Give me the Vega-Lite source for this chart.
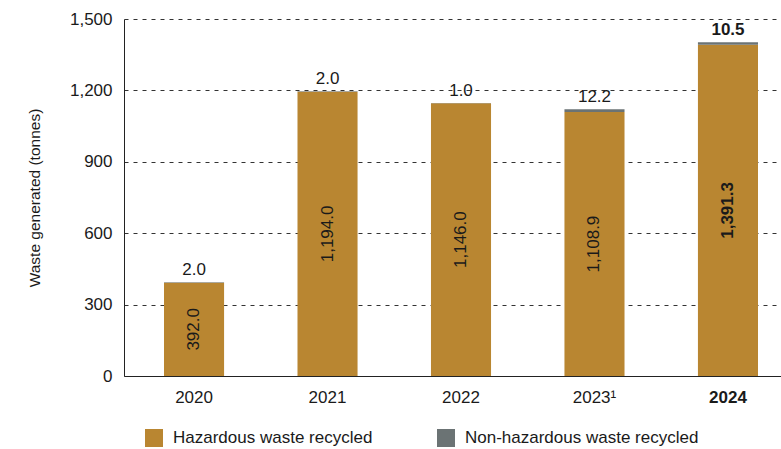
{
  "$schema": "https://vega.github.io/schema/vega-lite/v6.json",
  "width": 657,
  "height": 357,
  "autosize": {"type": "none"},
  "padding": {"left": 124, "top": 19, "right": 0, "bottom": 73},
  "background": "white",
  "config": {
    "font": "Liberation Sans",
    "view": {"stroke": null},
    "text": {"font": "Liberation Sans", "fontSize": 17, "fill": "#1a1a1a"}
  },
  "data": {
    "values": [
      {"year": "2020", "category": "Hazardous waste recycled", "value": 392.0},
      {"year": "2020", "category": "Non-hazardous waste recycled", "value": 2.0},
      {"year": "2021", "category": "Hazardous waste recycled", "value": 1194.0},
      {"year": "2021", "category": "Non-hazardous waste recycled", "value": 2.0},
      {"year": "2022", "category": "Hazardous waste recycled", "value": 1146.0},
      {"year": "2022", "category": "Non-hazardous waste recycled", "value": 1.0},
      {"year": "2023¹", "category": "Hazardous waste recycled", "value": 1108.9},
      {"year": "2023¹", "category": "Non-hazardous waste recycled", "value": 12.2},
      {"year": "2024", "category": "Hazardous waste recycled", "value": 1391.3},
      {"year": "2024", "category": "Non-hazardous waste recycled", "value": 10.5}
    ]
  },
  "encoding": {
    "x": {
      "field": "year",
      "type": "nominal",
      "sort": null,
      "scale": {"paddingInner": 0.55, "paddingOuter": 0.236, "align": 0.635},
      "axis": {
        "title": null,
        "labelAngle": 0,
        "labelFontSize": 17,
        "labelColor": "#1a1a1a",
        "labelPadding": 13,
        "labelFontWeight": {"condition": {"test": "datum.value === '2024'", "value": "bold"}, "value": "normal"},
        "ticks": false,
        "domainColor": "#222222",
        "domainWidth": 1,
        "grid": false
      }
    }
  },
  "layer": [
    {
      "mark": {"type": "bar"},
      "encoding": {
        "y": {
          "field": "value",
          "type": "quantitative",
          "stack": "zero",
          "scale": {"domain": [0, 1500], "nice": false},
          "axis": {
            "title": "Waste generated (tonnes)",
            "titleFontSize": 15.5,
            "titleFontWeight": "normal",
            "titleColor": "#1a1a1a",
            "titlePadding": 27,
            "values": [0, 300, 600, 900, 1200, 1500],
            "format": ",d",
            "labelFontSize": 17,
            "labelColor": "#1a1a1a",
            "labelPadding": 12,
            "ticks": false,
            "domainColor": "#222222",
            "grid": true,
            "gridColor": "#333333",
            "gridDash": [4, 5],
            "gridWidth": 1
          }
        },
        "color": {
          "field": "category",
          "type": "nominal",
          "scale": {
            "domain": ["Hazardous waste recycled", "Non-hazardous waste recycled"],
            "range": ["#B98631", "#6B7374"]
          },
          "legend": {
            "title": null,
            "orient": "none",
            "direction": "horizontal",
            "legendX": 21,
            "legendY": 410,
            "symbolType": "square",
            "symbolSize": 324,
            "symbolStrokeWidth": 0,
            "symbolOpacity": 1,
            "labelFontSize": 17,
            "labelColor": "#1a1a1a",
            "labelOffset": 10,
            "labelLimit": 400,
            "columnPadding": 64
          }
        },
        "order": {"field": "category", "sort": "ascending"}
      }
    },
    {
      "transform": [
        {"stack": "value", "groupby": ["year"], "sort": [{"field": "category", "order": "ascending"}], "as": ["v0", "v1"]},
        {"filter": "datum.category === 'Non-hazardous waste recycled' && datum.year !== '2024'"}
      ],
      "mark": {"type": "text", "baseline": "bottom", "dy": -3},
      "encoding": {
        "y": {"field": "v1", "type": "quantitative", "scale": {"domain": [0, 1500], "nice": false}, "axis": null},
        "text": {"field": "value", "type": "quantitative", "format": ",.1f"}
      }
    },
    {
      "transform": [
        {"stack": "value", "groupby": ["year"], "sort": [{"field": "category", "order": "ascending"}], "as": ["v0", "v1"]},
        {"filter": "datum.category === 'Non-hazardous waste recycled' && datum.year === '2024'"}
      ],
      "mark": {"type": "text", "baseline": "bottom", "dy": -3, "fontWeight": "bold"},
      "encoding": {
        "y": {"field": "v1", "type": "quantitative", "scale": {"domain": [0, 1500], "nice": false}, "axis": null},
        "text": {"field": "value", "type": "quantitative", "format": ",.1f"}
      }
    },
    {
      "transform": [
        {"filter": "datum.category === 'Hazardous waste recycled' && datum.year !== '2024'"}
      ],
      "mark": {"type": "text", "angle": 270, "baseline": "middle", "align": "center"},
      "encoding": {
        "y": {"field": "value", "type": "quantitative", "scale": {"domain": [0, 3000], "nice": false}, "axis": null},
        "text": {"field": "value", "type": "quantitative", "format": ",.1f"}
      }
    },
    {
      "transform": [
        {"filter": "datum.category === 'Hazardous waste recycled' && datum.year === '2024'"}
      ],
      "mark": {"type": "text", "angle": 270, "baseline": "middle", "align": "center", "fontWeight": "bold"},
      "encoding": {
        "y": {"field": "value", "type": "quantitative", "scale": {"domain": [0, 3000], "nice": false}, "axis": null},
        "text": {"field": "value", "type": "quantitative", "format": ",.1f"}
      }
    }
  ],
  "resolve": {"scale": {"y": "independent"}}
}
